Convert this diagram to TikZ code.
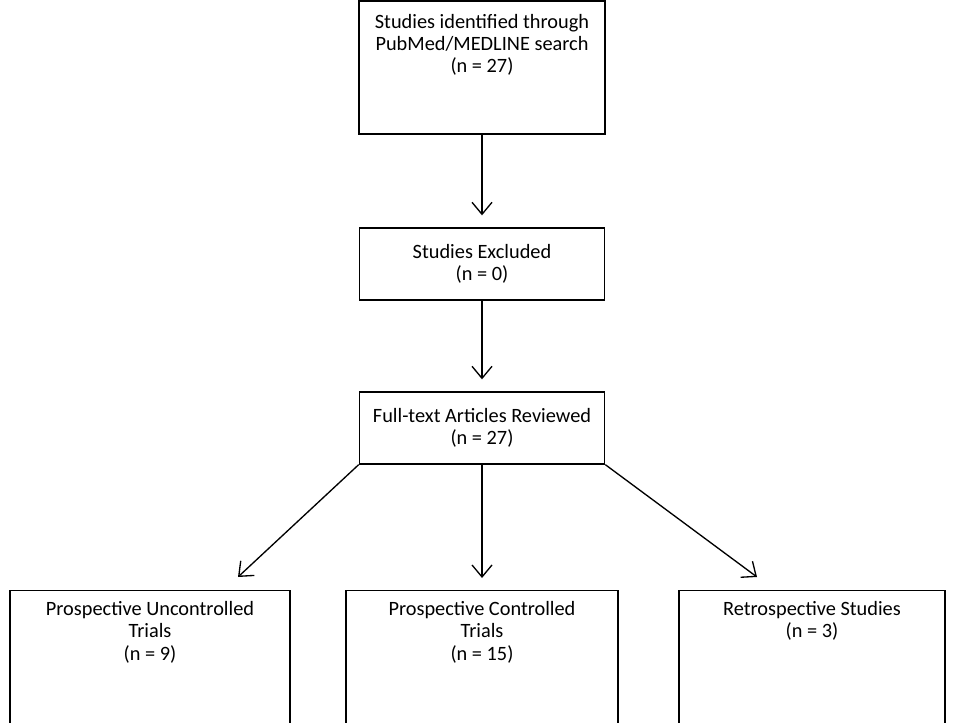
\documentclass[tikz,border=0pt]{standalone}
\usepackage{fontspec}
\setmainfont{Carlito}
\usetikzlibrary{arrows.meta}

\tikzset{
  flowbox/.style={draw, line width=1pt, rectangle, align=center, inner sep=0pt,
    font=\fontsize{15.25}{16.75}\selectfont},
  flowarrow/.style={line width=1pt, shorten >=9pt,
    -{Straight Barb[length=9pt,width=15pt,line width=1pt]}}
}

\begin{document}
\begin{tikzpicture}[x=0.75pt,y=0.75pt,yscale=-1,xscale=1]
%set diagram size to 960 x 723
\useasboundingbox (0,0) rectangle (960,723);

%Shape: Rectangle [search]
\node [flowbox, minimum width=184.5pt, minimum height=99.75pt, text depth=36pt] (search) at (482,67.5)
  {Studies identified through\\PubMed/MEDLINE search\\(n = 27)};
%Shape: Rectangle [excluded]
\node [flowbox, minimum width=184pt, minimum height=54pt] (excluded) at (482,264)
  {Studies Excluded\\(n = 0)};
%Shape: Rectangle [review]
\node [flowbox, minimum width=184pt, minimum height=54pt] (review) at (482,428)
  {Full-text Articles Reviewed\\(n = 27)};

%Shape: Rectangle [uncontrolled]
\node [flowbox, anchor=north, minimum width=210pt, inner ysep=8pt, text depth=90pt] (uncontrolled) at (150,590)
  {Prospective Uncontrolled\\Trials\\(n = 9)};
%Shape: Rectangle [controlled]
\node [flowbox, anchor=north, minimum width=204pt, inner ysep=8pt, text depth=90pt] (controlled) at (482,590)
  {Prospective Controlled\\Trials\\(n = 15)};
%Shape: Rectangle [retro]
\node [flowbox, anchor=north, minimum width=199.5pt, inner ysep=8pt, text depth=90pt] (retro) at (812,590)
  {Retrospective Studies\\(n = 3)};

% free arrow ends
\coordinate (tipl) at (238,577);
\coordinate (tipr) at (757,577);

%Straight Lines
\draw [flowarrow] (search) -- (excluded);
\draw [flowarrow] (excluded) -- (review);
\draw [flowarrow] (review) -- (controlled);
\draw [flowarrow, shorten >=0pt] (review.south west) -- (tipl);
\draw [flowarrow, shorten >=0pt] (review.south east) -- (tipr);

\end{tikzpicture}
\end{document}
